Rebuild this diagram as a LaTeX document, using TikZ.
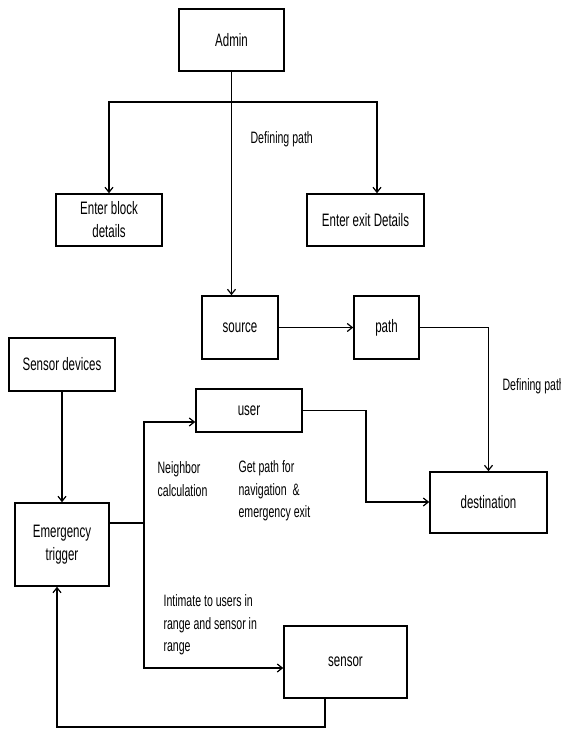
\documentclass[tikz,border=0pt]{standalone}
\usepackage{fontspec}
\setmainfont[FakeStretch=0.64]{Liberation Sans}
\usetikzlibrary{arrows,arrows.meta,positioning}
\tikzset{
 >={Straight Barb[length=5pt,width=8pt]},
 box/.style={draw,rectangle,line width=1.6pt,align=center,inner sep=0pt,
   font=\fontsize{18}{23}\selectfont},
 lbl/.style={align=left,inner sep=0pt,font=\fontsize{16.5}{22.5}\selectfont}
}

\begin{document}
\begin{tikzpicture}[x=1pt,y=-1pt,line width=1.2pt]
\useasboundingbox (0,0) rectangle (561,730);

\path (231.5,40) node[name=admin,box,minimum width=105pt,minimum height=62pt] {Admin};
\path (109,220) node[name=block,box,minimum width=106pt,minimum height=52pt] {Enter block\\details};
\path (365.5,220) node[name=exit,box,minimum width=117pt,minimum height=52pt] {Enter exit Details};
\path (240,327.5) node[name=src,box,minimum width=76pt,minimum height=63pt] {source};
\path (386.5,327.5) node[name=pth,box,minimum width=65pt,minimum height=63pt] {path};
\path (62,364.5) node[name=sdev,box,minimum width=106pt,minimum height=53pt] {Sensor devices};
\path (249,410.5) node[name=user,box,minimum width=106pt,minimum height=43pt] {user};
\path (488.5,502.5) node[name=dest,box,minimum width=117pt,minimum height=61pt] {destination};
\path (62,544.5) node[name=emer,box,minimum width=94pt,minimum height=83pt] {Emergency\\trigger};
\path (345.5,662) node[name=sens,box,minimum width=123pt,minimum height=72pt] {sensor};

% admin branches
\coordinate (split) at (231,102);
\path[->] (admin.south) edge (admin.south |- src.north);
\draw[->] (split) -| (block.north);
\draw[->] (split) -| ([xshift=11.5pt]exit.north);
\path (250,139) node[name=def1,lbl,anchor=west] {Defining path};

% source to destination
\path[->] (src) edge (pth);
\draw[->] (pth.east) -| (dest.north);
\path (502,386) node[name=def2,lbl,anchor=west] {Defining path};

% emergency part
\coordinate (fork) at (144,523);
\coordinate (turn) at (366,502);
\coordinate (low) at (57,727);
\path[->] (sdev) edge (emer);
\draw (emer.east |- fork) -- (fork);
\draw[->] (fork) |- ([yshift=-11.5pt]user.west);
\draw[->] (fork) |- ([yshift=-6pt]sens.west);
\draw[->] (user.east) -| (turn) -- (dest.west |- turn);
\draw[->] ([xshift=-20.5pt]sens.south) |- (low) -- (low |- emer.south);

\path (157,479) node[name=nbr,lbl,anchor=west] {Neighbor\\calculation};
\path (238,491) node[name=getp,lbl,anchor=west] {Get path for\\navigation~~\&\\emergency exit};
\path (163,625) node[name=intm,lbl,anchor=west] {Intimate to users in\\range and sensor in\\range};
\end{tikzpicture}
\end{document}
